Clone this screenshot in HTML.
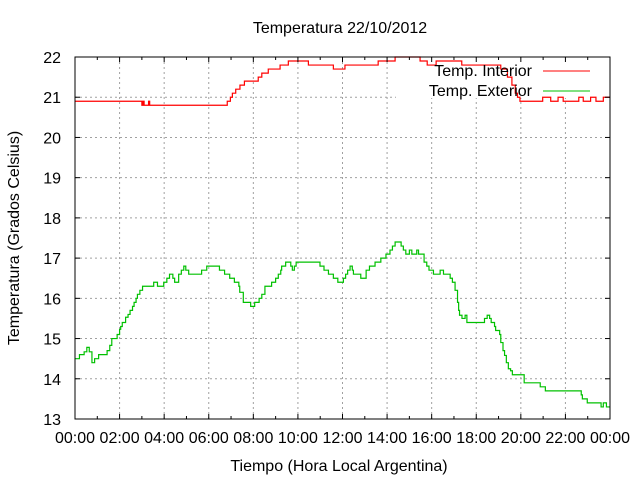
<!DOCTYPE html>
<html><head><meta charset="utf-8"><style>
html,body{margin:0;padding:0;background:#fff;}
svg text{font-family:"Liberation Sans",sans-serif;font-size:16px;fill:#000;}
</style></head><body>
<svg id="chart" width="640" height="480" viewBox="0 0 640 480">
<rect width="640" height="480" fill="#fff"/>
<g id="grid"></g>
<rect x="396" y="58" width="213" height="40" fill="#fff"/>
<g id="series"></g>
<g id="axes"></g>
<text x="340" y="33" text-anchor="middle">Temperatura 22/10/2012</text>
<text x="339" y="471" text-anchor="middle">Tiempo (Hora Local Argentina)</text>
<text transform="translate(19,238) rotate(-90)" text-anchor="middle">Temperatura (Grados Celsius)</text>
<g>
<text x="532" y="76" text-anchor="end">Temp. Interior</text>
<line x1="543" y1="71" x2="590" y2="71" stroke="#ff0000" stroke-width="1"/>
<text x="532" y="96" text-anchor="end">Temp. Exterior</text>
<line x1="543" y1="91" x2="590" y2="91" stroke="#00c000" stroke-width="1"/>
</g>
</svg>
<script>
const xTickLabels = ["00:00","02:00","04:00","06:00","08:00","10:00","12:00","14:00","16:00","18:00","20:00","22:00","00:00"];
const yTicks = [13,14,15,16,17,18,19,20,21,22];
const interiorHours = [0,3.0,3.05,3.1,3.3,3.35,6.83,6.97,7.06,7.21,7.40,7.6,8.22,8.38,8.67,9.2,9.57,10.47,11.59,12.11,13.6,14.36,15.48,15.8,16.2,17.35,19.1,19.4,19.6,19.75,19.85,19.96,20.98,21.34,21.67,21.9,22.6,22.8,23.13,23.37,23.7];
const interiorValues = [20.9,20.8,20.9,20.8,20.9,20.8,20.9,21.0,21.1,21.2,21.3,21.4,21.5,21.6,21.7,21.8,21.9,21.8,21.7,21.8,21.9,22.0,21.9,21.8,21.9,21.8,21.7,21.5,21.3,21.1,21.0,20.9,21.0,20.9,21.0,20.9,21.0,20.9,21.0,20.9,21.0];
const exteriorHours = [0,0.2,0.41,0.53,0.64,0.76,0.88,1.06,1.44,1.56,1.65,1.89,2.0,2.05,2.12,2.27,2.38,2.47,2.58,2.65,2.74,2.8,2.91,3.03,3.53,3.7,3.98,4.12,4.24,4.39,4.47,4.65,4.77,4.88,4.97,5.1,5.68,5.91,6.48,6.71,6.94,7.15,7.35,7.39,7.55,7.88,8.06,8.26,8.38,8.52,8.82,9.0,9.12,9.23,9.27,9.45,9.68,9.75,9.84,9.92,10.99,11.17,11.37,11.59,11.79,12.04,12.14,12.23,12.34,12.44,12.49,12.82,13.06,13.21,13.46,13.72,13.95,14.13,14.24,14.36,14.63,14.73,14.84,15.0,15.11,15.33,15.41,15.66,15.78,15.88,16.08,16.38,16.53,16.83,16.93,17.05,17.16,17.21,17.25,17.36,17.5,17.58,17.96,18.37,18.49,18.6,18.67,18.82,18.87,19.05,19.1,19.2,19.27,19.35,19.44,19.54,19.62,20.15,20.83,20.87,21.1,22.71,22.76,22.98,23.19,23.6,23.7,23.84,23.92];
const exteriorValues = [14.5,14.6,14.67,14.78,14.67,14.4,14.5,14.6,14.7,14.83,15.0,15.1,15.23,15.3,15.4,15.53,15.6,15.7,15.8,15.9,16.0,16.1,16.2,16.3,16.4,16.3,16.4,16.5,16.6,16.5,16.4,16.6,16.7,16.8,16.7,16.6,16.7,16.8,16.7,16.6,16.5,16.4,16.3,16.15,15.9,15.8,15.9,16.0,16.1,16.3,16.4,16.5,16.6,16.7,16.8,16.9,16.8,16.7,16.8,16.9,16.8,16.7,16.6,16.5,16.4,16.5,16.6,16.7,16.8,16.7,16.6,16.5,16.7,16.8,16.9,17.0,17.1,17.2,17.3,17.4,17.3,17.2,17.1,17.2,17.1,17.2,17.1,16.9,16.8,16.7,16.6,16.7,16.6,16.5,16.4,16.2,15.9,15.7,15.58,15.5,15.58,15.4,15.4,15.5,15.58,15.5,15.4,15.3,15.2,15.1,14.9,14.7,14.58,14.4,14.25,14.2,14.1,13.9,13.9,13.8,13.7,13.6,13.5,13.4,13.4,13.3,13.4,13.3,13.3];

const L=75,R=610,T=57,B=419;
const xScale=h=>L+(R-L)*h/24;
const yScale=v=>B-(B-T)*(v-13)/9;
const NS="http://www.w3.org/2000/svg";
function mk(tag,attrs,parent){const e=document.createElementNS(NS,tag);for(const k in attrs)e.setAttribute(k,attrs[k]);parent.appendChild(e);return e;}
const grid=document.getElementById('grid'),axes=document.getElementById('axes'),series=document.getElementById('series');
xTickLabels.forEach((lab,i)=>{
  const x=xScale(i*2);
  if(i>0&&i<xTickLabels.length-1){
    const g=mk('line',{x1:x,y1:T,x2:x,y2:B,stroke:'#a0a0a0','stroke-dasharray':'2,3'},grid);
    
    
  }
  const t=mk('line',{x1:x,y1:B,x2:x,y2:B-5,stroke:'#000'},axes);
  
  
  const t2=mk('line',{x1:x,y1:T,x2:x,y2:T+5,stroke:'#000'},axes);
  
  
  if(i<xTickLabels.length-1){
    const xm=xScale(i*2+1);
    const m=mk('line',{x1:xm,y1:B,x2:xm,y2:B-3,stroke:'#000'},axes);
    
    
    const m2=mk('line',{x1:xm,y1:T,x2:xm,y2:T+3,stroke:'#000'},axes);
    
    
  }
  const tx=mk('text',{x:x,y:443,'text-anchor':'middle'},axes);
  tx.textContent=lab;
  
  
});
yTicks.forEach(v=>{
  const y=yScale(v);
  if(v>13&&v<22){
    const g=mk('line',{x1:L,y1:y,x2:R,y2:y,stroke:'#a0a0a0','stroke-dasharray':'2,3'},grid);
    
    
  }
  const t=mk('line',{x1:L,y1:y,x2:L+5,y2:y,stroke:'#000'},axes);
  
  
  const t2=mk('line',{x1:R,y1:y,x2:R-5,y2:y,stroke:'#000'},axes);
  
  
  const tx=mk('text',{x:61,y:y+6,'text-anchor':'end'},axes);
  tx.textContent=String(v);
  
  
});
const frame=mk('rect',{x:L,y:T,width:R-L,height:B-T,fill:'none',stroke:'#000'},axes);


function stepPath(hs,vs){
  let d='M'+xScale(hs[0])+','+yScale(vs[0]);
  for(let i=1;i<hs.length;i++){d+='H'+xScale(hs[i])+'V'+yScale(vs[i]);}
  d+='H'+xScale(24);
  return d;
}
const pi=mk('path',{d:stepPath(interiorHours,interiorValues),fill:'none',stroke:'#ff0000','stroke-width':1.2},series);


const pe=mk('path',{d:stepPath(exteriorHours,exteriorValues),fill:'none',stroke:'#00c000','stroke-width':1.2},series);


</script>
</body></html>
